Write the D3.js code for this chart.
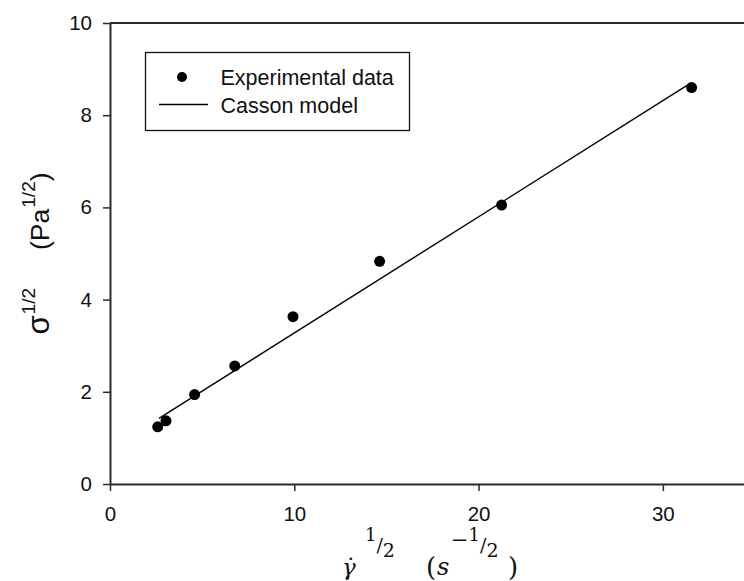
<!DOCTYPE html>
<html>
<head>
<meta charset="utf-8">
<script src="https://cdn.jsdelivr.net/npm/d3@7"></script>
<style>
  html, body { margin: 0; padding: 0; background: #fff; }
  svg { display: block; }
  .tick text { font-family: "Liberation Sans", Arial, sans-serif; }
</style>
</head>
<body>
<svg id="chart" width="744" height="581"></svg>
<script>
// Square-root shear rate (s^-1/2) and square-root shear stress (Pa^1/2)
const shearRateSqrt = [2.59, 3.04, 4.59, 6.77, 9.93, 14.63, 21.25, 31.56];
const stressSqrt    = [1.24, 1.37, 1.94, 2.56, 3.63, 4.83, 6.05, 8.60];

// Casson model line, endpoints
const cassonX = [2.66, 31.4];
const cassonY = [1.425, 8.67];

const xTicks = [0, 10, 20, 30];
const yTicks = [0, 2, 4, 6, 8, 10];

const legendLabels = ["Experimental data", "Casson model"];

const svg = d3.select("#chart");
const x = d3.scaleLinear().domain([0, 35]).range([110, 755]);
const y = d3.scaleLinear().domain([0, 10]).range([484, 23]);

const axisColor = "#2a2a2a";

// frame line along the top
svg.append("line")
  .attr("x1", x(0)).attr("x2", x(35))
  .attr("y1", y(10)).attr("y2", y(10))
  .attr("stroke", axisColor).attr("stroke-width", 2);

const xAxis = svg.append("g")
  .attr("transform", `translate(0,${y(0)})`)
  .call(d3.axisBottom(x).tickValues(xTicks).tickFormat(d3.format("d")).tickSizeInner(7).tickSizeOuter(0).tickPadding(15));
const yAxis = svg.append("g")
  .attr("transform", `translate(${x(0)},0)`)
  .call(d3.axisLeft(y).tickValues(yTicks).tickFormat(d3.format("d")).tickSizeInner(7).tickSizeOuter(0).tickPadding(11));

[xAxis, yAxis].forEach(g => {
  g.select(".domain").attr("stroke", axisColor).attr("stroke-width", 2);
  g.selectAll(".tick line").attr("stroke", axisColor).attr("stroke-width", 1.5);
  g.selectAll(".tick text").attr("fill", "#111").attr("font-size", 20.5);
});
xAxis.selectAll(".tick text").attr("dy", "0.71em");

// Casson model fit
const line = d3.line().x(d => x(d[0])).y(d => y(d[1]));
svg.append("path")
  .datum(d3.zip(cassonX, cassonY))
  .attr("d", line)
  .attr("fill", "none")
  .attr("stroke", "#000")
  .attr("stroke-width", 1.4);

// experimental points
svg.append("g").selectAll("circle")
  .data(d3.zip(shearRateSqrt, stressSqrt))
  .join("circle")
  .attr("cx", d => x(d[0]))
  .attr("cy", d => y(d[1]))
  .attr("r", 5.5)
  .attr("fill", "#000");

// legend
const lg = svg.append("g");
lg.append("rect")
  .attr("x", 145.5).attr("y", 52.5).attr("width", 264).attr("height", 78)
  .attr("fill", "#fff").attr("stroke", "#111").attr("stroke-width", 1.3);
lg.append("circle").attr("cx", 182).attr("cy", 77).attr("r", 5).attr("fill", "#000");
lg.append("line").attr("x1", 159).attr("x2", 208).attr("y1", 104.5).attr("y2", 104.5)
  .attr("stroke", "#000").attr("stroke-width", 1.3);
lg.selectAll("text")
  .data(legendLabels)
  .join("text")
  .attr("x", 220.5)
  .attr("y", (d, i) => 85 + i * 27.5)
  .attr("font-family", "Liberation Sans, Arial, sans-serif")
  .attr("font-size", 21.5)
  .attr("fill", "#111")
  .text(d => d);

// y axis title: σ^1/2 (Pa^1/2)
const yt = svg.append("text")
  .attr("transform", `translate(49,${(y(0) + y(10)) / 2}) rotate(-90)`)
  .attr("text-anchor", "middle")
  .attr("font-family", "Liberation Sans, Arial, sans-serif")
  .attr("font-size", 26.5)
  .attr("fill", "#111");
yt.append("tspan").attr("font-size", 31).text("σ");
yt.append("tspan").attr("font-size", 19).attr("dy", -14).attr("dx", 1).text("1/2");
yt.append("tspan").attr("dy", 14).attr("dx", 38).text("(Pa");
yt.append("tspan").attr("font-size", 19).attr("dy", -14).attr("dx", 1).text("1/2");
yt.append("tspan").attr("dy", 14).text(")");

// x axis title: γ̇^1/2 (s^-1/2)
const serif = "DejaVu Serif, Liberation Serif, serif";
const xt = svg.append("g").attr("fill", "#111").attr("font-family", serif);
const piece = (px, py, size, txt, italic) => xt.append("text")
  .attr("x", px).attr("y", py).attr("font-size", size)
  .attr("font-style", italic ? "italic" : "normal").text(txt);
// slashed fraction ¹/₂ as one text run
const frac = (px, minus) => {
  const t = xt.append("text").attr("x", px).attr("y", 541).attr("font-size", 18);
  if (minus) t.append("tspan").attr("dy", 6).attr("font-size", 21).text("\u2212");
  t.append("tspan").attr("dy", minus ? -6 : 0).text("1");
  t.append("tspan").attr("dy", 11).attr("font-size", 19).text("/");
  t.append("tspan").attr("dy", 5).attr("font-size", 19).text("2");
};
piece(342, 575, 23, "γ\u0307", true);
frac(365, false);
piece(426, 576, 26, "(", false);
piece(437, 575, 24, "s", true);
frac(451, true);
piece(508, 576, 26, ")", false);
</script>
</body>
</html>
